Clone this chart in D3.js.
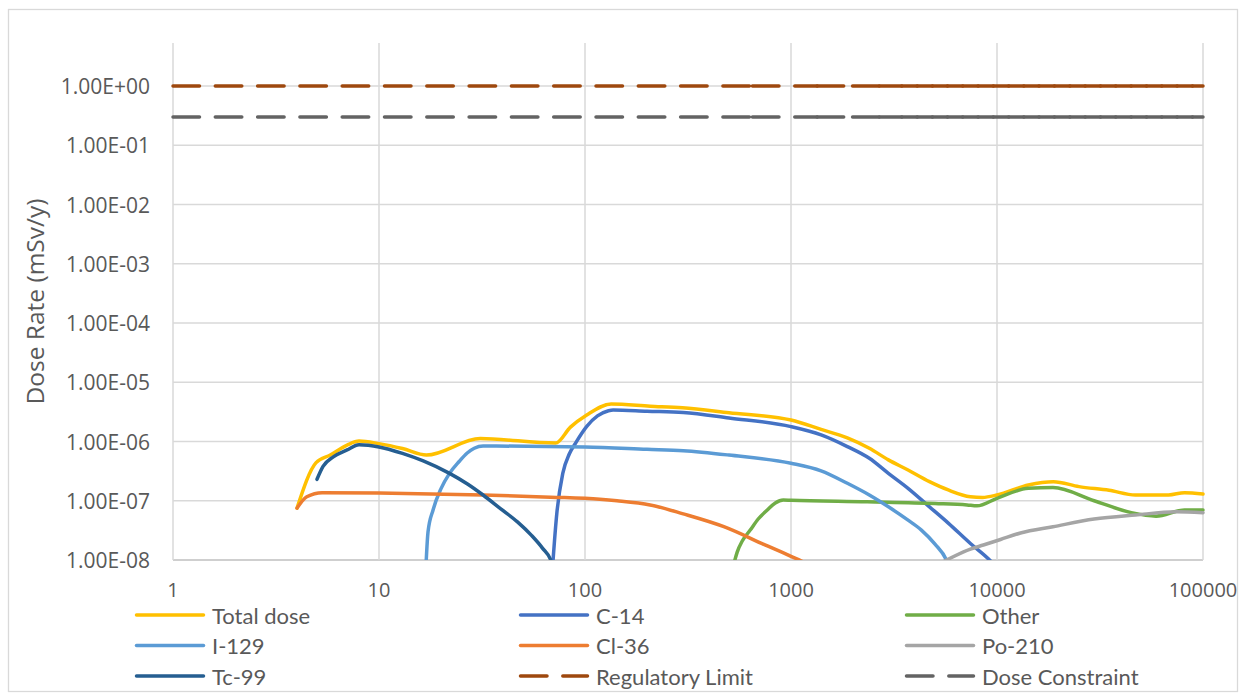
<!DOCTYPE html>
<html>
<head>
<meta charset="utf-8">
<script src="https://cdn.jsdelivr.net/npm/d3@7"></script>
<style>
  body { margin: 0; background: #fff; }
  svg { display: block; }
</style>
</head>
<body>
<svg id="chart" width="1246" height="700"></svg>
<script>
// ---- Data: dose rate (mSv/y) against time (years) ----
const xTicks = [1, 10, 100, 1000, 10000, 100000];
const yTicks = [1e-8, 1e-7, 1e-6, 1e-5, 1e-4, 1e-3, 1e-2, 1e-1, 1e0];
const yTickLabels = ["1.00E-08", "1.00E-07", "1.00E-06", "1.00E-05", "1.00E-04",
                     "1.00E-03", "1.00E-02", "1.00E-01", "1.00E+00"];

const totalT = [4, 4.95, 5.8, 7, 8, 10, 13, 17, 31, 72, 85, 102, 134, 207, 297, 500, 1000,
                1400, 1877, 2400, 2970, 3700, 4700, 5800, 7430, 8500, 10000, 14200, 18800,
                25000, 35000, 47000, 68000, 81300, 100000];
const totalV = [7.5e-8, 4.4e-7, 5.9e-7, 8.7e-7, 1.02e-6, 9.2e-7, 7.6e-7, 5.9e-7, 1.12e-6,
                9.4e-7, 1.75e-6, 2.8e-6, 4.3e-6, 3.95e-6, 3.7e-6, 3.05e-6, 2.3e-6, 1.6e-6,
                1.15e-6, 7.7e-7, 4.9e-7, 3.3e-7, 2.1e-7, 1.52e-7, 1.17e-7, 1.14e-7, 1.25e-7,
                1.85e-7, 2.1e-7, 1.73e-7, 1.5e-7, 1.25e-7, 1.25e-7, 1.37e-7, 1.3e-7];

const c14T = [69, 73, 78, 84, 90, 102, 115, 130, 137, 200, 300, 500, 1000, 1400, 1877,
              2400, 2970, 3700, 4700, 5800, 7430, 9200, 10500];
const c14V = [5e-9, 6.2e-8, 2.9e-7, 6.2e-7, 9.4e-7, 1.8e-6, 2.7e-6, 3.3e-6, 3.4e-6, 3.25e-6,
              3.1e-6, 2.5e-6, 1.78e-6, 1.29e-6, 8.2e-7, 5.2e-7, 2.9e-7, 1.62e-7, 7.9e-8,
              4.2e-8, 1.9e-8, 1.0e-8, 6e-9];

const otherT = [531, 548, 580, 634, 693, 767, 839, 917, 1000, 2340, 5000, 7160, 8000, 10000,
                14200, 18700, 29600, 44900, 59200, 81300, 100000];
const otherV = [9.3e-9, 1.36e-8, 2.09e-8, 3.2e-8, 4.92e-8, 6.98e-8, 9.2e-8, 1.03e-7, 1.02e-7,
                9.6e-8, 9.0e-8, 8.5e-8, 8.2e-8, 1.1e-7, 1.62e-7, 1.67e-7, 1.0e-7, 6.3e-8,
                5.5e-8, 7e-8, 7e-8];

const i129T = [16.8, 17.3, 18.3, 20, 22, 24.5, 26.8, 29, 32, 100, 200, 300, 500, 1000, 1400,
               1877, 2400, 2970, 3700, 4295, 5000, 5680, 6000];
const i129V = [5e-9, 3e-8, 7e-8, 1.6e-7, 2.9e-7, 4.6e-7, 6.4e-7, 7.7e-7, 8.4e-7, 8.1e-7,
               7.4e-7, 7.0e-7, 5.9e-7, 4.3e-7, 3.2e-7, 1.97e-7, 1.25e-7, 7.9e-8, 4.7e-8,
               3.2e-8, 1.85e-8, 1.0e-8, 6e-9];

const cl36T = [4, 4.46, 5.3, 10, 32, 68, 118, 143, 207, 300, 472, 747, 1000, 1157, 1300];
const cl36V = [7.5e-8, 1.17e-7, 1.37e-7, 1.35e-7, 1.25e-7, 1.15e-7, 1.06e-7, 1.0e-7, 8.5e-8,
               6.0e-8, 3.65e-8, 1.8e-8, 1.15e-8, 9e-9, 6e-9];

const po210T = [5500, 7430, 8590, 10400, 13000, 18700, 29600, 47000, 74000, 100000];
const po210V = [9.4e-9, 1.53e-8, 1.79e-8, 2.22e-8, 2.86e-8, 3.65e-8, 4.9e-8, 5.75e-8,
                6.5e-8, 6.3e-8];

const tc99T = [5.0, 5.35, 6.0, 7.0, 8.0, 10, 13, 16.4, 22, 27, 32, 39, 47, 55, 62, 69, 72];
const tc99V = [2.3e-7, 3.8e-7, 5.5e-7, 7.2e-7, 8.8e-7, 8.1e-7, 6.3e-7, 4.7e-7, 2.9e-7,
               1.9e-7, 1.25e-7, 7.3e-8, 4.4e-8, 2.6e-8, 1.6e-8, 9e-9, 5e-9];

// Reference levels, sampled at the output times of the assessment
const limitT = [1, 650, 1340, 1990, 2690, 3450, 4100, 4860, 5750, 6820, 8100, 9600, 11400,
                13500, 16000, 19000, 22600, 26800, 31800, 37700, 44800, 53200, 63100, 74900,
                88900, 100000];
const regulatoryLimit = 1.0;
const doseConstraint = 0.3;

// ---- Series ----
const series = [
  { name: "Total dose",       t: totalT, v: totalV, color: "#FFC000" },
  { name: "C-14",             t: c14T,   v: c14V,   color: "#4472C4" },
  { name: "Other",            t: otherT, v: otherV, color: "#70AD47" },
  { name: "I-129",            t: i129T,  v: i129V,  color: "#5B9BD5" },
  { name: "Cl-36",            t: cl36T,  v: cl36V,  color: "#ED7D31" },
  { name: "Po-210",           t: po210T, v: po210V, color: "#A5A5A5" },
  { name: "Tc-99",            t: tc99T,  v: tc99V,  color: "#255E91" },
  { name: "Regulatory Limit", t: limitT, v: limitT.map(() => regulatoryLimit), color: "#9E480E", dashed: true },
  { name: "Dose Constraint",  t: limitT, v: limitT.map(() => doseConstraint),  color: "#636363", dashed: true }
];

// ---- Layout ----
const svg = d3.select("#chart");
const plot = { left: 173, right: 1203, top: 43, bottom: 560 };
const textColor = "#595959";
const gridColor = "#D9D9D9";
const lineWidth = 3.5;
const dash = "26.5,15.8";

const x = d3.scaleLog().domain([1, 100000]).range([plot.left, plot.right]);
const y = d3.scaleLog().domain([1e-8, 1]).range([plot.bottom, 86]);

// chart border
svg.append("rect")
  .attr("x", 8.5).attr("y", 9.5).attr("width", 1229).attr("height", 682)
  .attr("fill", "#fff").attr("stroke", gridColor).attr("stroke-width", 1.3);

// horizontal gridlines
svg.append("g").selectAll("line").data(yTicks).join("line")
  .attr("x1", plot.left).attr("x2", plot.right)
  .attr("y1", d => y(d)).attr("y2", d => y(d))
  .attr("stroke", (d, i) => i === 0 ? "#BFBFBF" : gridColor)
  .attr("stroke-width", 1.5);

// vertical gridlines
svg.append("g").selectAll("line").data(xTicks).join("line")
  .attr("x1", d => x(d)).attr("x2", d => x(d))
  .attr("y1", plot.top).attr("y2", plot.bottom)
  .attr("stroke", gridColor).attr("stroke-width", 1.5);

// y tick labels
svg.append("g").selectAll("text").data(yTicks).join("text")
  .attr("x", 150).attr("y", d => y(d))
  .attr("text-anchor", "end").attr("dominant-baseline", "central")
  .attr("font-family", "'Open Sans', sans-serif").attr("font-size", 21)
  .attr("fill", textColor)
  .text((d, i) => yTickLabels[i]);

// x tick labels
svg.append("g").selectAll("text").data(xTicks).join("text")
  .attr("x", d => x(d)).attr("y", 589.5)
  .attr("text-anchor", "middle").attr("dominant-baseline", "central")
  .attr("font-family", "'Open Sans', sans-serif").attr("font-size", 20)
  .attr("fill", textColor)
  .text(d => String(d));

// y axis title, centred on the plot area
svg.append("text")
  .attr("transform", `translate(34,${(plot.top + plot.bottom) / 2}) rotate(-90)`)
  .attr("text-anchor", "middle").attr("dominant-baseline", "central")
  .attr("font-family", "'Open Sans', sans-serif").attr("font-size", 24.5)
  .attr("fill", textColor)
  .text("Dose Rate (mSv/y)");

// plot clip
svg.append("clipPath").attr("id", "plotClip")
  .append("rect")
  .attr("x", plot.left - 4).attr("y", plot.top - 4)
  .attr("width", plot.right - plot.left + 8).attr("height", plot.bottom - plot.top + 4);

const line = d3.line().x(d => x(d[0])).y(d => y(d[1]));
const smooth = d3.line().x(d => x(d[0])).y(d => y(d[1])).curve(d3.curveMonotoneX);
const marks = svg.append("g").attr("clip-path", "url(#plotClip)");

series.forEach(s => {
  const pts = d3.zip(s.t, s.v);
  if (s.dashed) {
    // dash pattern restarts at every data point
    const segs = d3.pairs(pts);
    marks.append("g").selectAll("path").data(segs).join("path")
      .attr("d", d => line(d))
      .attr("fill", "none").attr("stroke", s.color)
      .attr("stroke-width", lineWidth)
      .attr("stroke-linecap", "round")
      .attr("stroke-dasharray", dash);
  } else {
    marks.append("path")
      .attr("d", smooth(pts))
      .attr("fill", "none").attr("stroke", s.color)
      .attr("stroke-width", lineWidth)
      .attr("stroke-linejoin", "round")
      .attr("stroke-linecap", "round");
  }
});

// ---- Legend (3 columns x 3 rows) ----
const legendCols = [135, 519, 905];
const legendRows = [615, 645.5, 676];
const swatchLen = 70;
const legend = svg.append("g");
series.forEach((s, i) => {
  const cx = legendCols[i % 3];
  const cy = legendRows[Math.floor(i / 3)];
  legend.append("line")
    .attr("x1", cx + 1.5).attr("x2", cx + swatchLen - 1.5)
    .attr("y1", cy).attr("y2", cy)
    .attr("stroke", s.color).attr("stroke-width", lineWidth)
    .attr("stroke-linecap", "round")
    .attr("stroke-dasharray", s.dashed ? dash : null);
  legend.append("text")
    .attr("x", cx + swatchLen + 7).attr("y", cy)
    .attr("dominant-baseline", "central")
    .attr("font-family", "Lato, sans-serif").attr("font-size", 22)
    .attr("fill", textColor)
    .text(s.name);
});
</script>
</body>
</html>
